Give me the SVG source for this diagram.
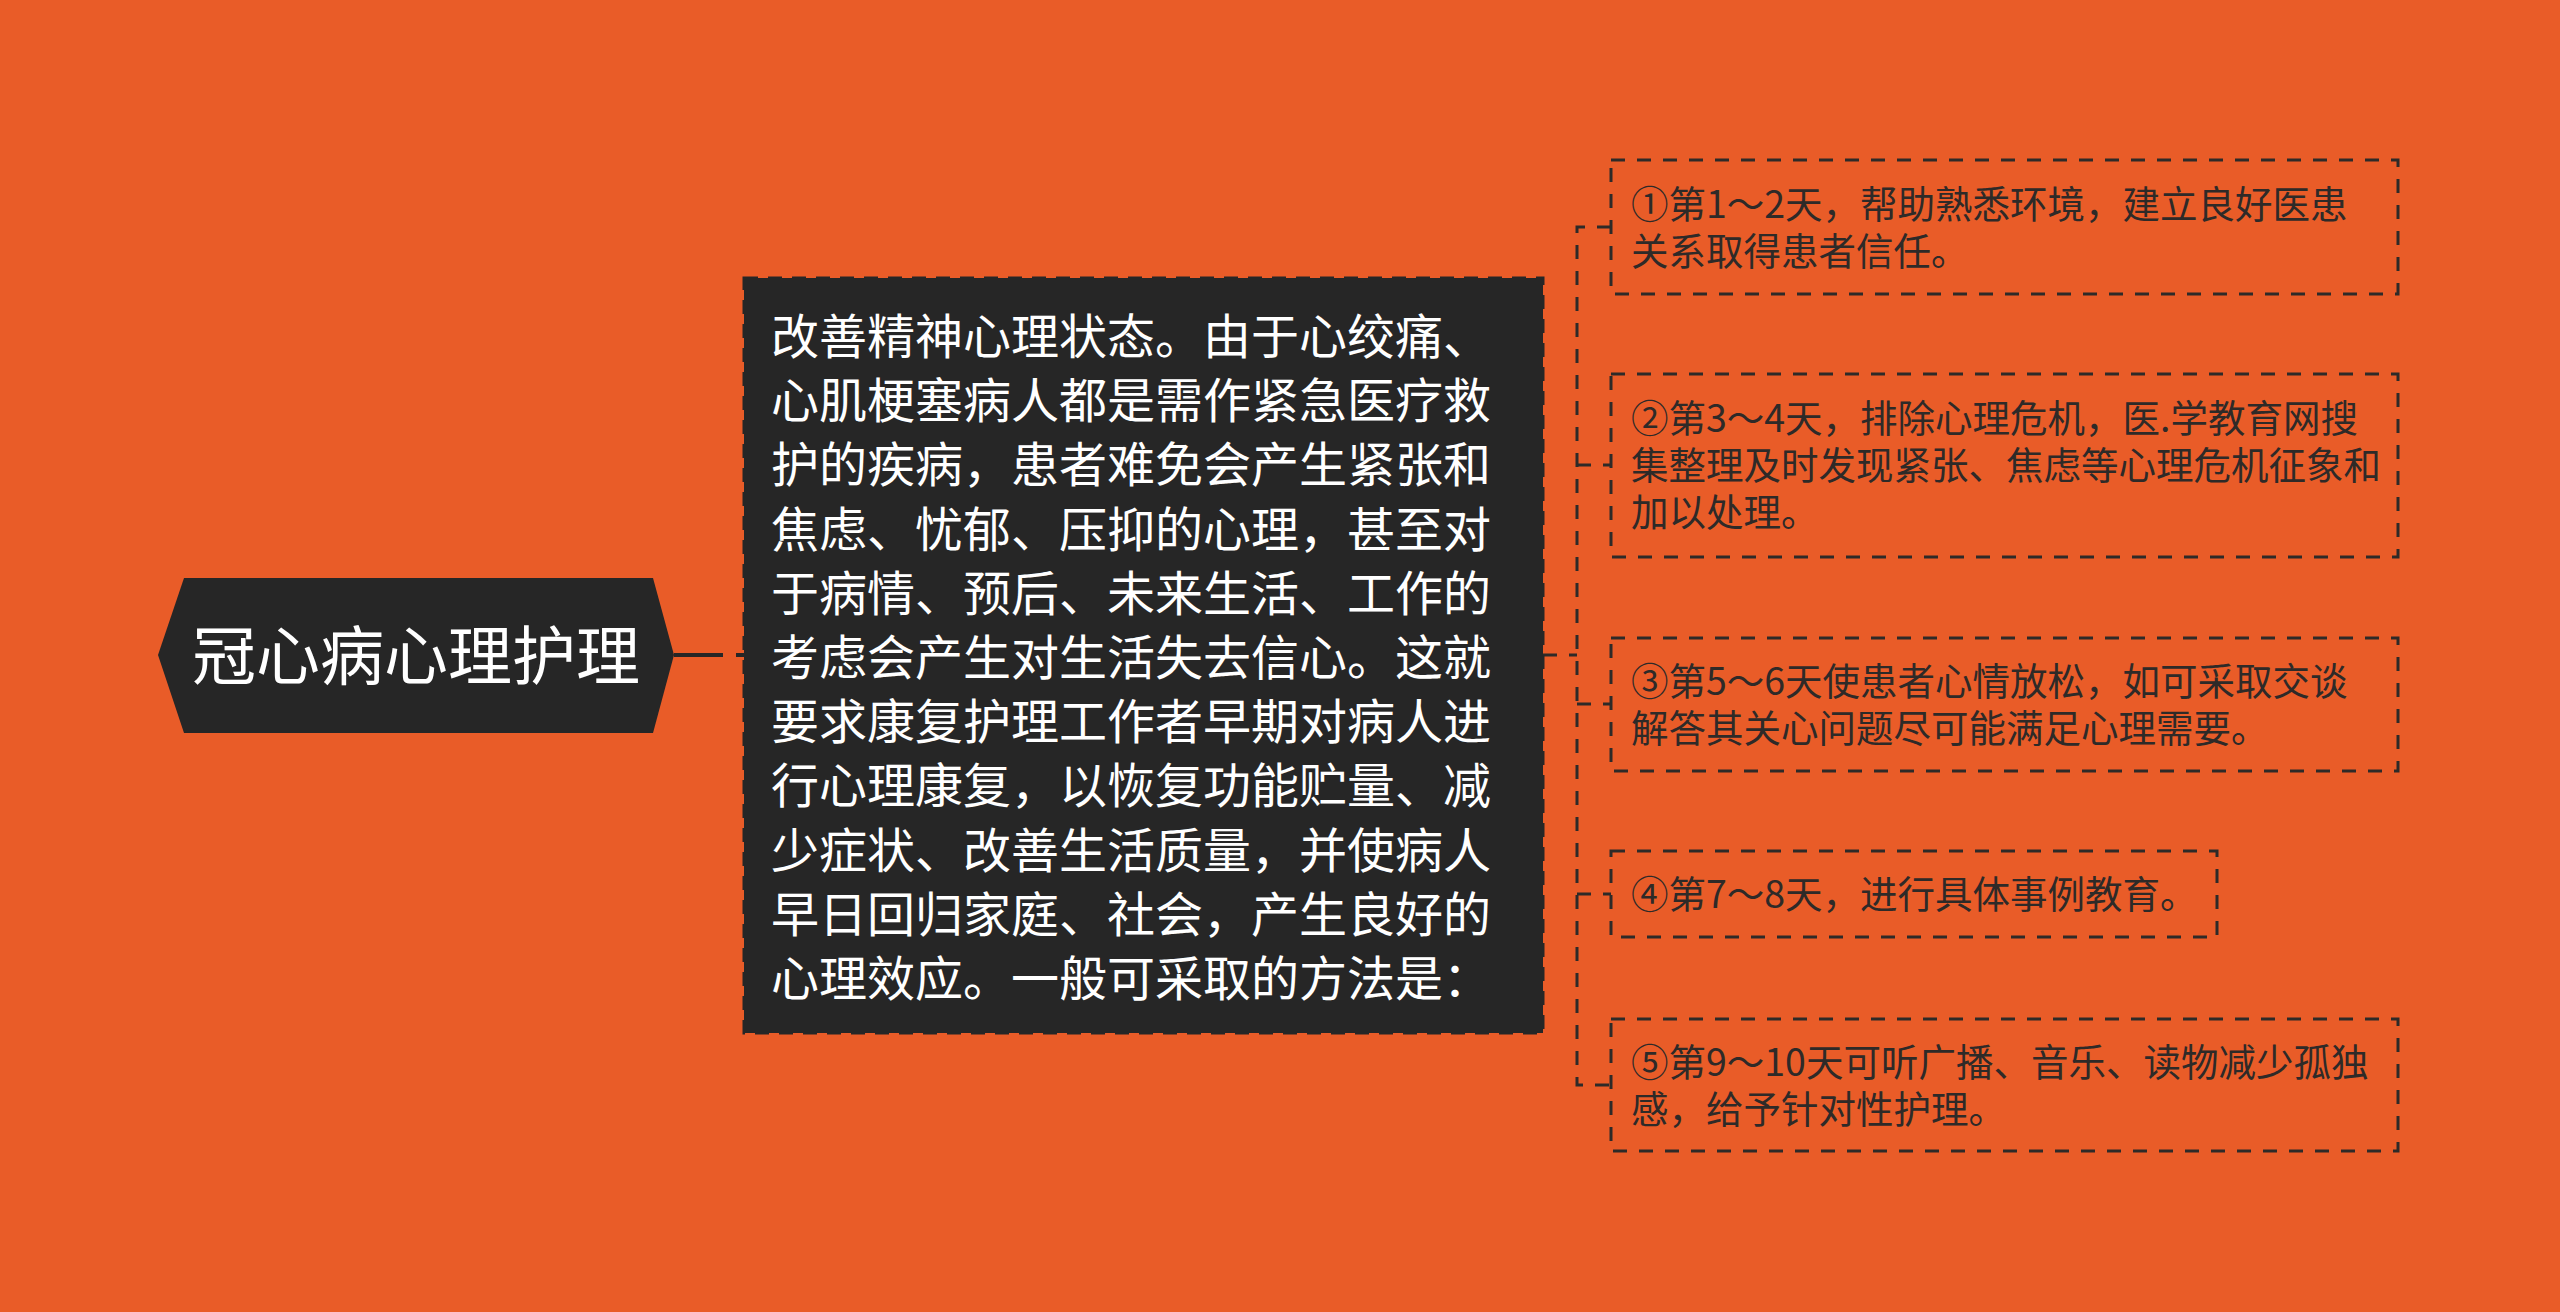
<svg xmlns="http://www.w3.org/2000/svg" width="2560" height="1312" viewBox="0 0 2560 1312">
<style>
.bg{fill:#E95C28}
.dark{fill:#262626}
.mainbox{fill:#262626;stroke:#262626;stroke-width:3;stroke-dasharray:14 10}
.leaf{fill:none;stroke:#2e2a28;stroke-width:3;stroke-dasharray:14 12}
.conn{fill:none;stroke:#2e2a28;stroke-width:3;stroke-dasharray:14 12}
.t{font-family:"Noto Sans CJK SC","Noto Sans",sans-serif}
.root{font-size:64px;fill:#ffffff;text-anchor:middle}
.main{font-size:48px;fill:#ffffff}
.leaft{font-size:37.5px;fill:#2e2a28}
</style>
<rect class="bg" x="0" y="0" width="2560" height="1312"/>
<g id="connectors">
<line x1="674" y1="655" x2="744" y2="655" stroke="#262626" stroke-width="4" stroke-dasharray="49 13 8"/>
<path class="conn" d="M1543,655 H1577"/>
<path class="conn" d="M1611,227 H1577 V1085 H1611"/>
<path class="conn" d="M1577,465 H1611"/>
<path class="conn" d="M1577,704 H1611"/>
<path class="conn" d="M1577,894 H1611"/>
</g>
<g id="root">
<polygon class="dark" points="158,655 184,578 653,578 674,655 653,733 184,733"/>
<text class="t root" x="416" y="679">冠心病心理护理</text>
</g>
<g id="main">
<rect class="mainbox" x="744" y="278" width="799" height="755"/>
<text class="t main" x="771" y="354">
<tspan x="771" y="354">改善精神心理状态。由于心绞痛、</tspan>
<tspan x="771" y="418.2">心肌梗塞病人都是需作紧急医疗救</tspan>
<tspan x="771" y="482.4">护的疾病，患者难免会产生紧张和</tspan>
<tspan x="771" y="546.6">焦虑、忧郁、压抑的心理，甚至对</tspan>
<tspan x="771" y="610.8">于病情、预后、未来生活、工作的</tspan>
<tspan x="771" y="675">考虑会产生对生活失去信心。这就</tspan>
<tspan x="771" y="739.2">要求康复护理工作者早期对病人进</tspan>
<tspan x="771" y="803.4">行心理康复，以恢复功能贮量、减</tspan>
<tspan x="771" y="867.6">少症状、改善生活质量，并使病人</tspan>
<tspan x="771" y="931.8">早日回归家庭、社会，产生良好的</tspan>
<tspan x="771" y="996">心理效应。一般可采取的方法是：</tspan>
</text>
</g>
<g id="leaf1">
<rect class="leaf" x="1611" y="160" width="787" height="134"/>
<text class="t leaft"><tspan x="1631" y="218">①第1～2天，帮助熟悉环境，建立良好医患</tspan><tspan x="1631" y="265">关系取得患者信任。</tspan></text>
</g>
<g id="leaf2">
<rect class="leaf" x="1611" y="374" width="787" height="183"/>
<text class="t leaft"><tspan x="1631" y="432">②第3～4天，排除心理危机，医.学教育网搜</tspan><tspan x="1631" y="479">集整理及时发现紧张、焦虑等心理危机征象和</tspan><tspan x="1631" y="526">加以处理。</tspan></text>
</g>
<g id="leaf3">
<rect class="leaf" x="1611" y="638" width="787" height="133"/>
<text class="t leaft"><tspan x="1631" y="695">③第5～6天使患者心情放松，如可采取交谈</tspan><tspan x="1631" y="742">解答其关心问题尽可能满足心理需要。</tspan></text>
</g>
<g id="leaf4">
<rect class="leaf" x="1611" y="851" width="606" height="86"/>
<text class="t leaft"><tspan x="1631" y="908">④第7～8天，进行具体事例教育。</tspan></text>
</g>
<g id="leaf5">
<rect class="leaf" x="1611" y="1019" width="787" height="132"/>
<text class="t leaft"><tspan x="1631" y="1076">⑤第9～10天可听广播、音乐、读物减少孤独</tspan><tspan x="1631" y="1123">感，给予针对性护理。</tspan></text>
</g>
</svg>
